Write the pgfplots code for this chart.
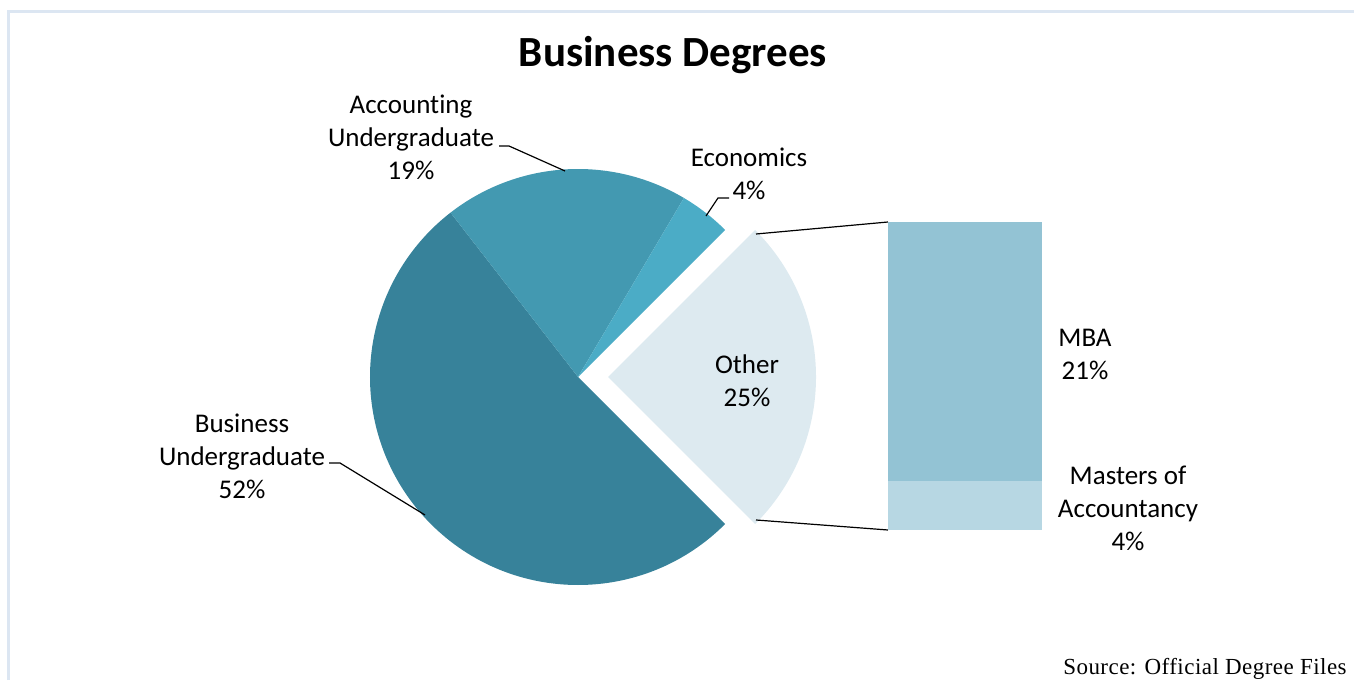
\documentclass[border=0pt]{standalone}
\usepackage{pgfplots}
\pgfplotsset{compat=1.18}
\usepackage{pgfplotstable}
\usepackage{fontspec}
\setmainfont{Carlito}[Ligatures=NoCommon]
\newfontfamily\srcfont{Liberation Serif}[LetterSpace=2]

\definecolor{busug}{HTML}{37829A}
\definecolor{accug}{HTML}{4399B1}
\definecolor{econ}{HTML}{4BACC6}
\definecolor{othercol}{HTML}{DDEAF0}
\definecolor{mbacol}{HTML}{93C3D4}
\definecolor{mascol}{HTML}{B7D7E3}
\definecolor{framecol}{HTML}{DCE6F2}

% main pie
\pgfplotstableread{
share value
Business 52
Accounting 19
Economics 4
Other 25
}\piedata
\pgfplotstablegetelem{0}{value}\of\piedata \let\vBus\pgfplotsretval
\pgfplotstablegetelem{1}{value}\of\piedata \let\vAcc\pgfplotsretval
\pgfplotstablegetelem{2}{value}\of\piedata \let\vEco\pgfplotsretval
\pgfplotstablegetelem{3}{value}\of\piedata \let\vOth\pgfplotsretval

% slice angles, clockwise, "Other" centred on the right
\pgfmathsetmacro\aA{-3.6*\vOth/2}
\pgfmathsetmacro\aB{\aA-3.6*\vBus}
\pgfmathsetmacro\aC{\aB-3.6*\vAcc}
\pgfmathsetmacro\aD{\aC-3.6*\vEco}
\pgfmathsetmacro\aE{\aD-3.6*\vOth}
\def\rad{104bp}

\newcommand\lbl{\fontsize{13.5bp}{16.5bp}\selectfont}

\begin{document}
\begin{tikzpicture}
\begin{axis}[
    x=0.5bp, y=0.5bp,
    xmin=0, xmax=1354, ymin=0, ymax=680,
    hide axis, clip=false
]
\coordinate (ll) at (axis cs:0,0);
\coordinate (ur) at (axis cs:1354,680);
\coordinate (barorigin) at (axis cs:888,150);

\draw[framecol, line width=1.3bp] (axis cs:8.5,0) -- (axis cs:8.5,668.5) -- (axis cs:1354,668.5);

\fill[busug] (axis cs:578,303) -- ++(\aA:\rad) arc[start angle=\aA, end angle=\aB, radius=\rad] -- cycle;
\fill[accug] (axis cs:578,303) -- ++(\aB:\rad) arc[start angle=\aB, end angle=\aC, radius=\rad] -- cycle;
\fill[econ] (axis cs:578,303) -- ++(\aC:\rad) arc[start angle=\aC, end angle=\aD, radius=\rad] -- cycle;
\fill[othercol] (axis cs:608,303) -- ++(\aD:\rad) arc[start angle=\aD, end angle=\aE, radius=\rad] -- cycle;

% leader lines
\draw[line width=0.6bp] (axis cs:499,534) -- (axis cs:509,534) -- (axis cs:565,509);
\draw[line width=0.6bp] (axis cs:729,482) -- (axis cs:718,482) -- (axis cs:706,464);
\draw[line width=0.6bp] (axis cs:329,217) -- (axis cs:340,217) -- (axis cs:425,165);
% connectors to the bar
\draw[line width=0.6bp] (axis cs:756,446) -- (axis cs:888,458);
\draw[line width=0.6bp] (axis cs:756,160) -- (axis cs:888,150);

\node[font=\fontsize{21.5bp}{26bp}\selectfont\bfseries] at (axis cs:673,625) {Business Degrees};
\node[align=center, font=\lbl] at (axis cs:411,543) {Accounting\\Undergraduate\\19\%};
\node[align=center, font=\lbl] at (axis cs:749,506) {Economics\\4\%};
\node[align=center, font=\lbl] at (axis cs:242,224) {Business\\Undergraduate\\52\%};
\node[align=center, font=\lbl] at (axis cs:747,299) {Other\\25\%};
\node[align=center, font=\lbl] at (axis cs:1085,326) {MBA\\21\%};
\node[align=center, font=\lbl] at (axis cs:1128,172) {Masters of\\Accountancy\\4\%};
\node[anchor=base east, inner sep=0pt, font=\srcfont\fontsize{11.5bp}{13bp}\selectfont] at (axis cs:1347,5) {Source: Official Degree Files};
\end{axis}

% breakdown of "Other"
\begin{axis}[
    at={(barorigin)}, anchor=south west,
    x=77bp, y=6.16bp,
    xmin=-0.5, xmax=0.5, ymin=0, ymax=25,
    ybar stacked, bar width=77bp,
    hide axis, clip=false
]
\addplot[fill=mascol, draw=none] coordinates {(0,4)};
\addplot[fill=mbacol, draw=none] coordinates {(0,21)};
\end{axis}

\pgfresetboundingbox
\path[use as bounding box] (ll) rectangle (ur);
\end{tikzpicture}
\end{document}
